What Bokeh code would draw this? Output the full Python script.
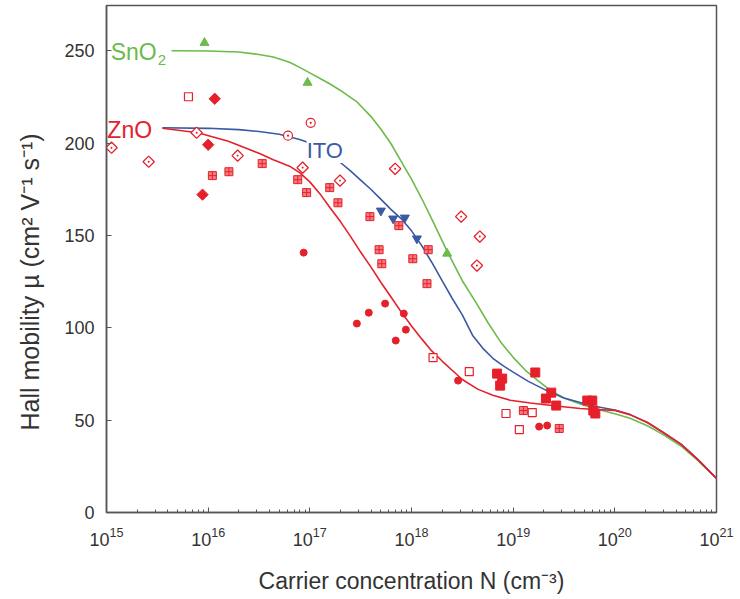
import math
from bokeh.plotting import figure
from bokeh.models import Label, FixedTicker, Title
from bokeh.embed import file_html
from bokeh.resources import INLINE

# ---------------- data ----------------
# fitted curves (N in cm^-3, mobility in cm2/Vs)
sno2_N = [4.37e15, 1.0e16, 2.0e16, 3.16e16, 4.37e16, 6.31e16, 7.94e16, 1.0e17, 1.26e17, 1.58e17,
          2.0e17, 2.88e17, 3.98e17, 5.01e17, 6.31e17, 7.94e17, 1.0e18, 1.26e18, 1.58e18, 2.24e18,
          3.16e18, 4.27e18, 5.62e18, 7.59e18, 1.0e19, 1.32e19, 1.74e19, 2.34e19, 3.16e19, 4.57e19,
          6.31e19, 1.0e20, 1.41e20, 2.09e20, 3.02e20, 4.47e20, 6.46e20, 1.0e21]
sno2_mu = [250.0, 249.9, 249.3, 248.0, 246.6, 243.8, 241.0, 238.0, 235.0, 232.0,
           228.5, 222.5, 214.5, 207.5, 199.5, 190.0, 180.5, 170.0, 159.0, 141.5,
           125.5, 114.0, 103.0, 92.0, 84.0, 77.0, 71.5, 66.0, 62.0, 58.8,
           56.3, 53.5, 51.0, 47.0, 42.0, 36.0, 28.5, 18.5]

ito_N = [3.55e15, 1.0e16, 2.0e16, 3.16e16, 5.01e16, 7.94e16, 1.0e17, 1.26e17, 1.58e17, 2.0e17,
         2.51e17, 3.16e17, 3.98e17, 5.01e17, 6.31e17, 7.94e17, 1.0e18, 1.26e18, 1.58e18, 2.0e18,
         2.51e18, 3.16e18, 3.98e18, 5.01e18, 6.31e18, 7.94e18, 1.0e19, 1.41e19, 2.14e19, 3.16e19,
         4.57e19, 6.31e19, 1.0e20, 1.41e20, 2.09e20, 3.02e20, 4.47e20, 6.46e20, 1.0e21]
ito_mu = [208.3, 208.0, 207.3, 206.3, 204.8, 202.0, 200.0, 197.0, 193.5, 189.5,
          185.0, 180.0, 175.0, 169.5, 164.0, 159.0, 152.5, 144.5, 135.5, 125.5,
          116.0, 107.0, 96.0, 89.0, 83.5, 79.5, 76.0, 71.0, 66.0, 62.0,
          59.5, 57.5, 55.5, 53.0, 48.7, 43.2, 37.0, 29.0, 18.5]

zno_N = [3.55e15, 7.94e15, 1.58e16, 3.16e16, 4.37e16, 6.31e16, 7.94e16, 1.0e17, 1.26e17, 1.58e17,
         2.0e17, 2.51e17, 3.16e17, 3.98e17, 5.01e17, 6.31e17, 7.94e17, 1.0e18, 1.26e18, 1.58e18,
         2.0e18, 2.51e18, 3.16e18, 4.47e18, 6.31e18, 9.33e18, 1.48e19, 2.51e19, 4.57e19, 6.31e19,
         1.0e20, 1.41e20, 2.09e20, 3.02e20, 4.47e20, 6.46e20, 1.0e21]
zno_mu = [208.0, 205.6, 201.0, 194.5, 191.0, 187.5, 184.0, 179.0, 172.5, 165.0,
          157.5, 149.5, 141.0, 133.0, 124.5, 116.5, 108.5, 101.0, 94.0, 87.5,
          82.0, 77.0, 72.0, 66.8, 63.5, 60.8, 59.3, 57.8, 56.3, 55.8,
          55.3, 53.0, 48.7, 43.2, 37.0, 29.0, 18.5]

# measured points
sno2_pts_N = [9.2e15, 9.5e16, 2.24e18]
sno2_pts_mu = [254.3, 232.7, 140.2]

ito_pts_N = [5.0e17, 6.6e17, 8.6e17, 1.13e18]
ito_pts_mu = [163.4, 159.1, 159.6, 148.3]

zno_odiamond_N = [1.12e15, 2.6e15, 7.7e15, 1.95e16, 8.5e16, 1.98e17, 6.9e17, 3.08e18, 4.7e18, 4.4e18]
zno_odiamond_mu = [197.5, 189.9, 205.6, 193.2, 186.7, 179.7, 186.1, 160.2, 149.4, 133.7]

zno_fdiamond_N = [1.16e16, 1.0e16, 8.8e15]
zno_fdiamond_mu = [224.0, 199.1, 172.1]

zno_ocircle_N = [1.02e17, 6.1e16]
zno_ocircle_mu = [211.0, 204.0]

zno_osquare_N = [6.4e15, 3.7e18, 8.5e18, 1.15e19, 1.54e19]
zno_osquare_mu = [225.1, 76.3, 53.6, 44.9, 54.1]

zno_dsquare_N = [1.63e18]
zno_dsquare_mu = [83.9]

zno_xsquare_N = [1.1e16, 1.6e16, 3.4e16, 7.6e16, 9.3e16, 1.57e17, 1.89e17, 3.9e17, 7.5e17, 4.8e17,
                 5.1e17, 1.03e18, 1.46e18, 1.42e18, 1.26e19, 2.84e19]
zno_xsquare_mu = [182.4, 184.5, 188.9, 180.2, 173.2, 175.9, 167.7, 160.2, 155.3, 142.3,
                  134.7, 137.4, 142.3, 123.9, 55.2, 45.5]

zno_fcircle_N = [8.7e16, 2.9e17, 3.8e17, 5.5e17, 8.4e17, 8.8e17, 7.0e17, 2.87e18, 1.8e19, 2.16e19]
zno_fcircle_mu = [140.7, 102.3, 108.2, 113.1, 107.7, 99.0, 93.1, 71.4, 46.5, 47.1]

zno_fsquare_N = [6.95e18, 7.8e18, 7.45e18, 1.65e19, 2.37e19, 2.1e19, 2.65e19, 5.36e19, 6.0e19, 6.14e19, 6.43e19]
zno_fsquare_mu = [75.2, 72.5, 68.7, 75.8, 64.9, 61.7, 57.9, 60.6, 60.6, 55.2, 53.6]

decades = [1e15, 1e16, 1e17, 1e18, 1e19, 1e20, 1e21]
y_ticks = [0, 50, 100, 150, 200, 250]

y_title = "Hall mobility \u00b5 (cm\u00b2 V\u207b\u00b9 s\u207b\u00b9)"
x_title = "Carrier concentration N (cm\u207b\u00b3)"

# ---------------- style ----------------
RED = "#e5202b"
GREEN = "#6cbb4c"
BLUE = "#3a5aa3"
AXC = "#555555"
TXT = "#333333"
FONT = "Liberation Sans"

p = figure(width=740, height=599, x_axis_type="log", x_range=(1e15, 1e21), y_range=(0, 274.5),
           output_backend="svg", toolbar_location=None,
           min_border_left=106, min_border_right=24, min_border_top=5, min_border_bottom=87)
p.background_fill_color = "white"
p.border_fill_color = "white"
p.outline_line_color = AXC
p.outline_line_width = 1.5
p.grid.visible = False

minor = [m * d for d in decades[:-1] for m in range(2, 10)]
p.xaxis.ticker = FixedTicker(ticks=decades, minor_ticks=minor)
p.yaxis.ticker = FixedTicker(ticks=y_ticks)

for ax in (p.xaxis, p.yaxis):
    ax.axis_line_color = AXC
    ax.axis_line_width = 1.5
    ax.major_tick_line_color = AXC
    ax.minor_tick_line_color = AXC
    ax.major_tick_out = 0
    ax.major_tick_in = 5
    ax.minor_tick_out = 0
    ax.minor_tick_in = 3
    ax.major_label_text_font = FONT
    ax.major_label_text_font_size = "18px"
    ax.major_label_text_color = TXT
p.yaxis.minor_tick_line_color = None
p.yaxis.major_label_standoff = 12
p.xaxis.major_label_standoff = 14

p.xaxis.axis_label = x_title
p.xaxis.axis_label_text_font = FONT
p.xaxis.axis_label_text_font_size = "23px"
p.xaxis.axis_label_text_font_style = "normal"
p.xaxis.axis_label_text_color = TXT
p.xaxis.axis_label_standoff = 19

p.add_layout(Title(text=y_title, align="left", offset=82, standoff=31, vertical_align="top",
                   text_font=FONT, text_font_size="25px", text_font_style="normal",
                   text_color=TXT), "left")

# curves
p.line(sno2_N, sno2_mu, line_color=GREEN, line_width=1.6)
p.line(ito_N, ito_mu, line_color=BLUE, line_width=1.6)
p.line(zno_N, zno_mu, line_color=RED, line_width=1.6)

# markers
DIAG = math.pi / 4
p.scatter(zno_odiamond_N, zno_odiamond_mu, marker="square_dot", size=8, angle=DIAG,
          fill_color="white", line_color=RED, line_width=1.3)
p.scatter(zno_fdiamond_N, zno_fdiamond_mu, marker="square", size=8, angle=DIAG,
          fill_color=RED, line_color=RED)
p.scatter(zno_ocircle_N, zno_ocircle_mu, marker="circle_dot", size=9, fill_color="white",
          line_color=RED, line_width=1.2)
p.scatter(zno_osquare_N, zno_osquare_mu, marker="square", size=8, fill_color="white",
          line_color=RED, line_width=1.2)
p.scatter(zno_dsquare_N, zno_dsquare_mu, marker="square_dot", size=8, fill_color="white",
          line_color=RED, line_width=1.2)
p.scatter(zno_xsquare_N, zno_xsquare_mu, marker="square_cross", size=8, fill_color="#f47b80",
          line_color=RED, line_width=1.0)
p.scatter(zno_fcircle_N, zno_fcircle_mu, marker="circle", size=7, fill_color=RED, line_color=RED)
p.scatter(zno_fsquare_N, zno_fsquare_mu, marker="square", size=9, fill_color=RED, line_color=RED)
p.scatter(sno2_pts_N, sno2_pts_mu, marker="triangle", size=9, fill_color=GREEN, line_color=GREEN)
p.scatter(ito_pts_N, ito_pts_mu, marker="inverted_triangle", size=9, fill_color=BLUE, line_color=BLUE)

# curve labels
p.add_layout(Label(x=1.1e15, y=249.5, text="SnO", text_color=GREEN, text_font=FONT,
                   text_font_size="23px", text_baseline="middle", text_align="left"))
p.add_layout(Label(x=1.1e15, y=249.5, x_offset=47, y_offset=-8, text="2", text_color=GREEN,
                   text_font=FONT, text_font_size="15px", text_baseline="middle", text_align="left"))
p.add_layout(Label(x=1.02e15, y=207, text="ZnO", text_color=RED, text_font=FONT,
                   text_font_size="23px", text_baseline="middle", text_align="left"))
p.add_layout(Label(x=9.3e16, y=196, text="ITO", text_color=BLUE, text_font=FONT,
                   text_font_size="22px", text_baseline="middle", text_align="left",
                   background_fill_color="white", background_fill_alpha=1.0))

open("out.html", "w").write(file_html(p, INLINE))
